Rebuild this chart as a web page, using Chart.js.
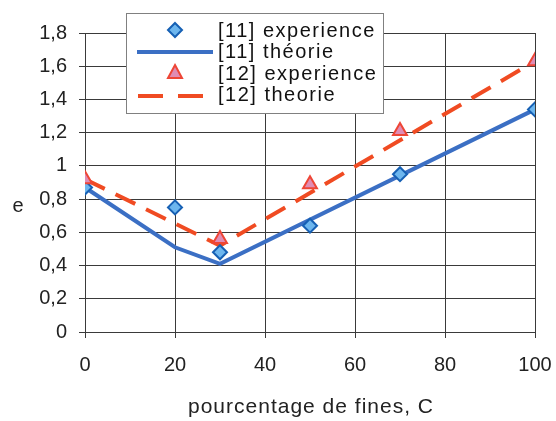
<!DOCTYPE html>
<html>
<head>
<meta charset="utf-8">
<script src="https://cdn.jsdelivr.net/npm/chart.js@4.4.1/dist/chart.umd.min.js"></script>
<style>
  html, body { margin: 0; padding: 0; background: #fff; }
  #wrap { width: 556px; height: 421px; }
</style>
</head>
<body>
<div id="wrap"><canvas id="chart" width="556" height="421"></canvas></div>
<script>
    // values
    const exp11X = [0, 20, 30, 50, 70, 100];
    const exp11Y = [0.87, 0.75, 0.48, 0.64, 0.95, 1.34];
    const theo11X = [0, 20, 30, 100];
    const theo11Y = [0.87, 0.51, 0.41, 1.34];
    const exp12X = [0, 30, 50, 70, 100];
    const exp12Y = [0.92, 0.56, 0.89, 1.21, 1.63];
    const theo12X = [0, 30, 100];
    const theo12Y = [0.92, 0.52, 1.63];

    const legendLabels = ['[11] experience', '[11] théorie', '[12] experience', '[12] theorie'];
    const xTitle = 'pourcentage de fines, C';
    const yTitle = 'e';

    const FONT = '"Liberation Sans", Arial, sans-serif';
    const BLUE = '#3b6fc4';
    const DIAMOND_FILL = '#6db6ee';
    const DIAMOND_EDGE = '#1660b4';
    const RED = '#f04b22';
    const TRI_FILL = '#e08cb4';
    const TRI_EDGE = '#ee4636';
    const GRID = '#3a3a3a';

    const toPoints = (xs, ys) => xs.map((x, i) => ({ x: x, y: ys[i] }));

    // legend box, axis titles (the "e" is not rotated) drawn by hand
    const overlay = {
      id: 'overlay',
      afterDraw(chart) {
        const ctx = chart.ctx;
        const area = chart.chartArea;
        ctx.save();
        ctx.fillStyle = '#222';
        ctx.font = '20px ' + FONT;
        ctx.textAlign = 'center';
        ctx.textBaseline = 'middle';
        ctx.fillText(yTitle, 18, (area.top + area.bottom) / 2 + 24);

        ctx.font = '21px ' + FONT;
        ctx.letterSpacing = '1px';
        ctx.fillText(xTitle, (area.left + area.right) / 2 + 1, 407);
        ctx.letterSpacing = '0px';

        // legend
        ctx.fillStyle = '#fff';
        ctx.fillRect(126.5, 13.5, 257, 100);
        ctx.strokeStyle = '#808080';
        ctx.lineWidth = 1;
        ctx.strokeRect(126.5, 13.5, 257, 100);

        const rows = [30, 51, 73, 94];
        ctx.font = '20px ' + FONT;
        ctx.fillStyle = '#111';
        ctx.textAlign = 'left';
        ctx.letterSpacing = '1.5px';
        legendLabels.forEach((t, i) => ctx.fillText(t, 218, rows[i] + 1));
        ctx.letterSpacing = '0px';

        // diamond
        ctx.beginPath();
        ctx.moveTo(175, rows[0] - 7);
        ctx.lineTo(182, rows[0]);
        ctx.lineTo(175, rows[0] + 7);
        ctx.lineTo(168, rows[0]);
        ctx.closePath();
        ctx.fillStyle = DIAMOND_FILL;
        ctx.fill();
        ctx.strokeStyle = DIAMOND_EDGE;
        ctx.lineWidth = 2;
        ctx.stroke();

        // solid line
        ctx.beginPath();
        ctx.moveTo(137, rows[1] + 1);
        ctx.lineTo(213, rows[1] + 1);
        ctx.strokeStyle = BLUE;
        ctx.lineWidth = 4;
        ctx.stroke();

        // triangle
        ctx.beginPath();
        ctx.moveTo(175, rows[2] - 8);
        ctx.lineTo(182, rows[2] + 5);
        ctx.lineTo(168, rows[2] + 5);
        ctx.closePath();
        ctx.fillStyle = TRI_FILL;
        ctx.fill();
        ctx.strokeStyle = TRI_EDGE;
        ctx.lineWidth = 2;
        ctx.stroke();

        // dashed line
        ctx.beginPath();
        ctx.moveTo(138, rows[3] + 2);
        ctx.lineTo(163, rows[3] + 2);
        ctx.moveTo(178, rows[3] + 2);
        ctx.lineTo(203, rows[3] + 2);
        ctx.strokeStyle = RED;
        ctx.lineWidth = 4;
        ctx.stroke();
        ctx.restore();
      }
    };

    new Chart(document.getElementById('chart'), {
      type: 'scatter',
      data: {
        datasets: [
          {
            label: legendLabels[2],
            data: toPoints(exp12X, exp12Y),
            order: 1,
            showLine: false,
            pointStyle: 'triangle',
            pointRadius: 8,
            pointBackgroundColor: TRI_FILL,
            pointBorderColor: TRI_EDGE,
            pointBorderWidth: 2
          },
          {
            label: legendLabels[0],
            data: toPoints(exp11X, exp11Y),
            order: 2,
            showLine: false,
            pointStyle: 'rectRot',
            pointRadius: 7,
            pointBackgroundColor: DIAMOND_FILL,
            pointBorderColor: DIAMOND_EDGE,
            pointBorderWidth: 2
          },
          {
            label: legendLabels[3],
            data: toPoints(theo12X, theo12Y),
            order: 3,
            showLine: true,
            borderColor: RED,
            borderWidth: 4,
            borderDash: [22, 12],
            pointRadius: 0
          },
          {
            label: legendLabels[1],
            data: toPoints(theo11X, theo11Y),
            order: 4,
            showLine: true,
            borderColor: BLUE,
            borderWidth: 4,
            pointRadius: 0
          }
        ]
      },
      options: {
        responsive: false,
        animation: false,
        layout: { padding: { left: 0, right: 21, top: 33, bottom: 0 } },
        plugins: {
          legend: { display: false },
          tooltip: { enabled: false }
        },
        scales: {
          x: {
            type: 'linear',
            min: 0,
            max: 100,
            afterFit: s => {
              s.height = 89;
              s.paddingLeft = 0;
              s.paddingRight = 0;
            },
            ticks: {
              stepSize: 20,
              color: '#222',
              padding: 15,
              maxRotation: 0,
              font: { family: FONT, size: 20 }
            },
            grid: { color: GRID, lineWidth: 1, tickLength: 6 },
            border: { color: GRID }
          },
          y: {
            min: 0,
            max: 1.8,
            afterFit: s => { s.width = 85; },
            ticks: {
              stepSize: 0.2,
              color: '#222',
              padding: 12,
              font: { family: FONT, size: 20 },
              callback: v => (Math.round(v * 10) / 10).toString().replace('.', ',')
            },
            grid: { color: GRID, lineWidth: 1, tickLength: 6 },
            border: { color: GRID }
          }
        }
      },
      plugins: [overlay]
    });
</script>
</body>
</html>
